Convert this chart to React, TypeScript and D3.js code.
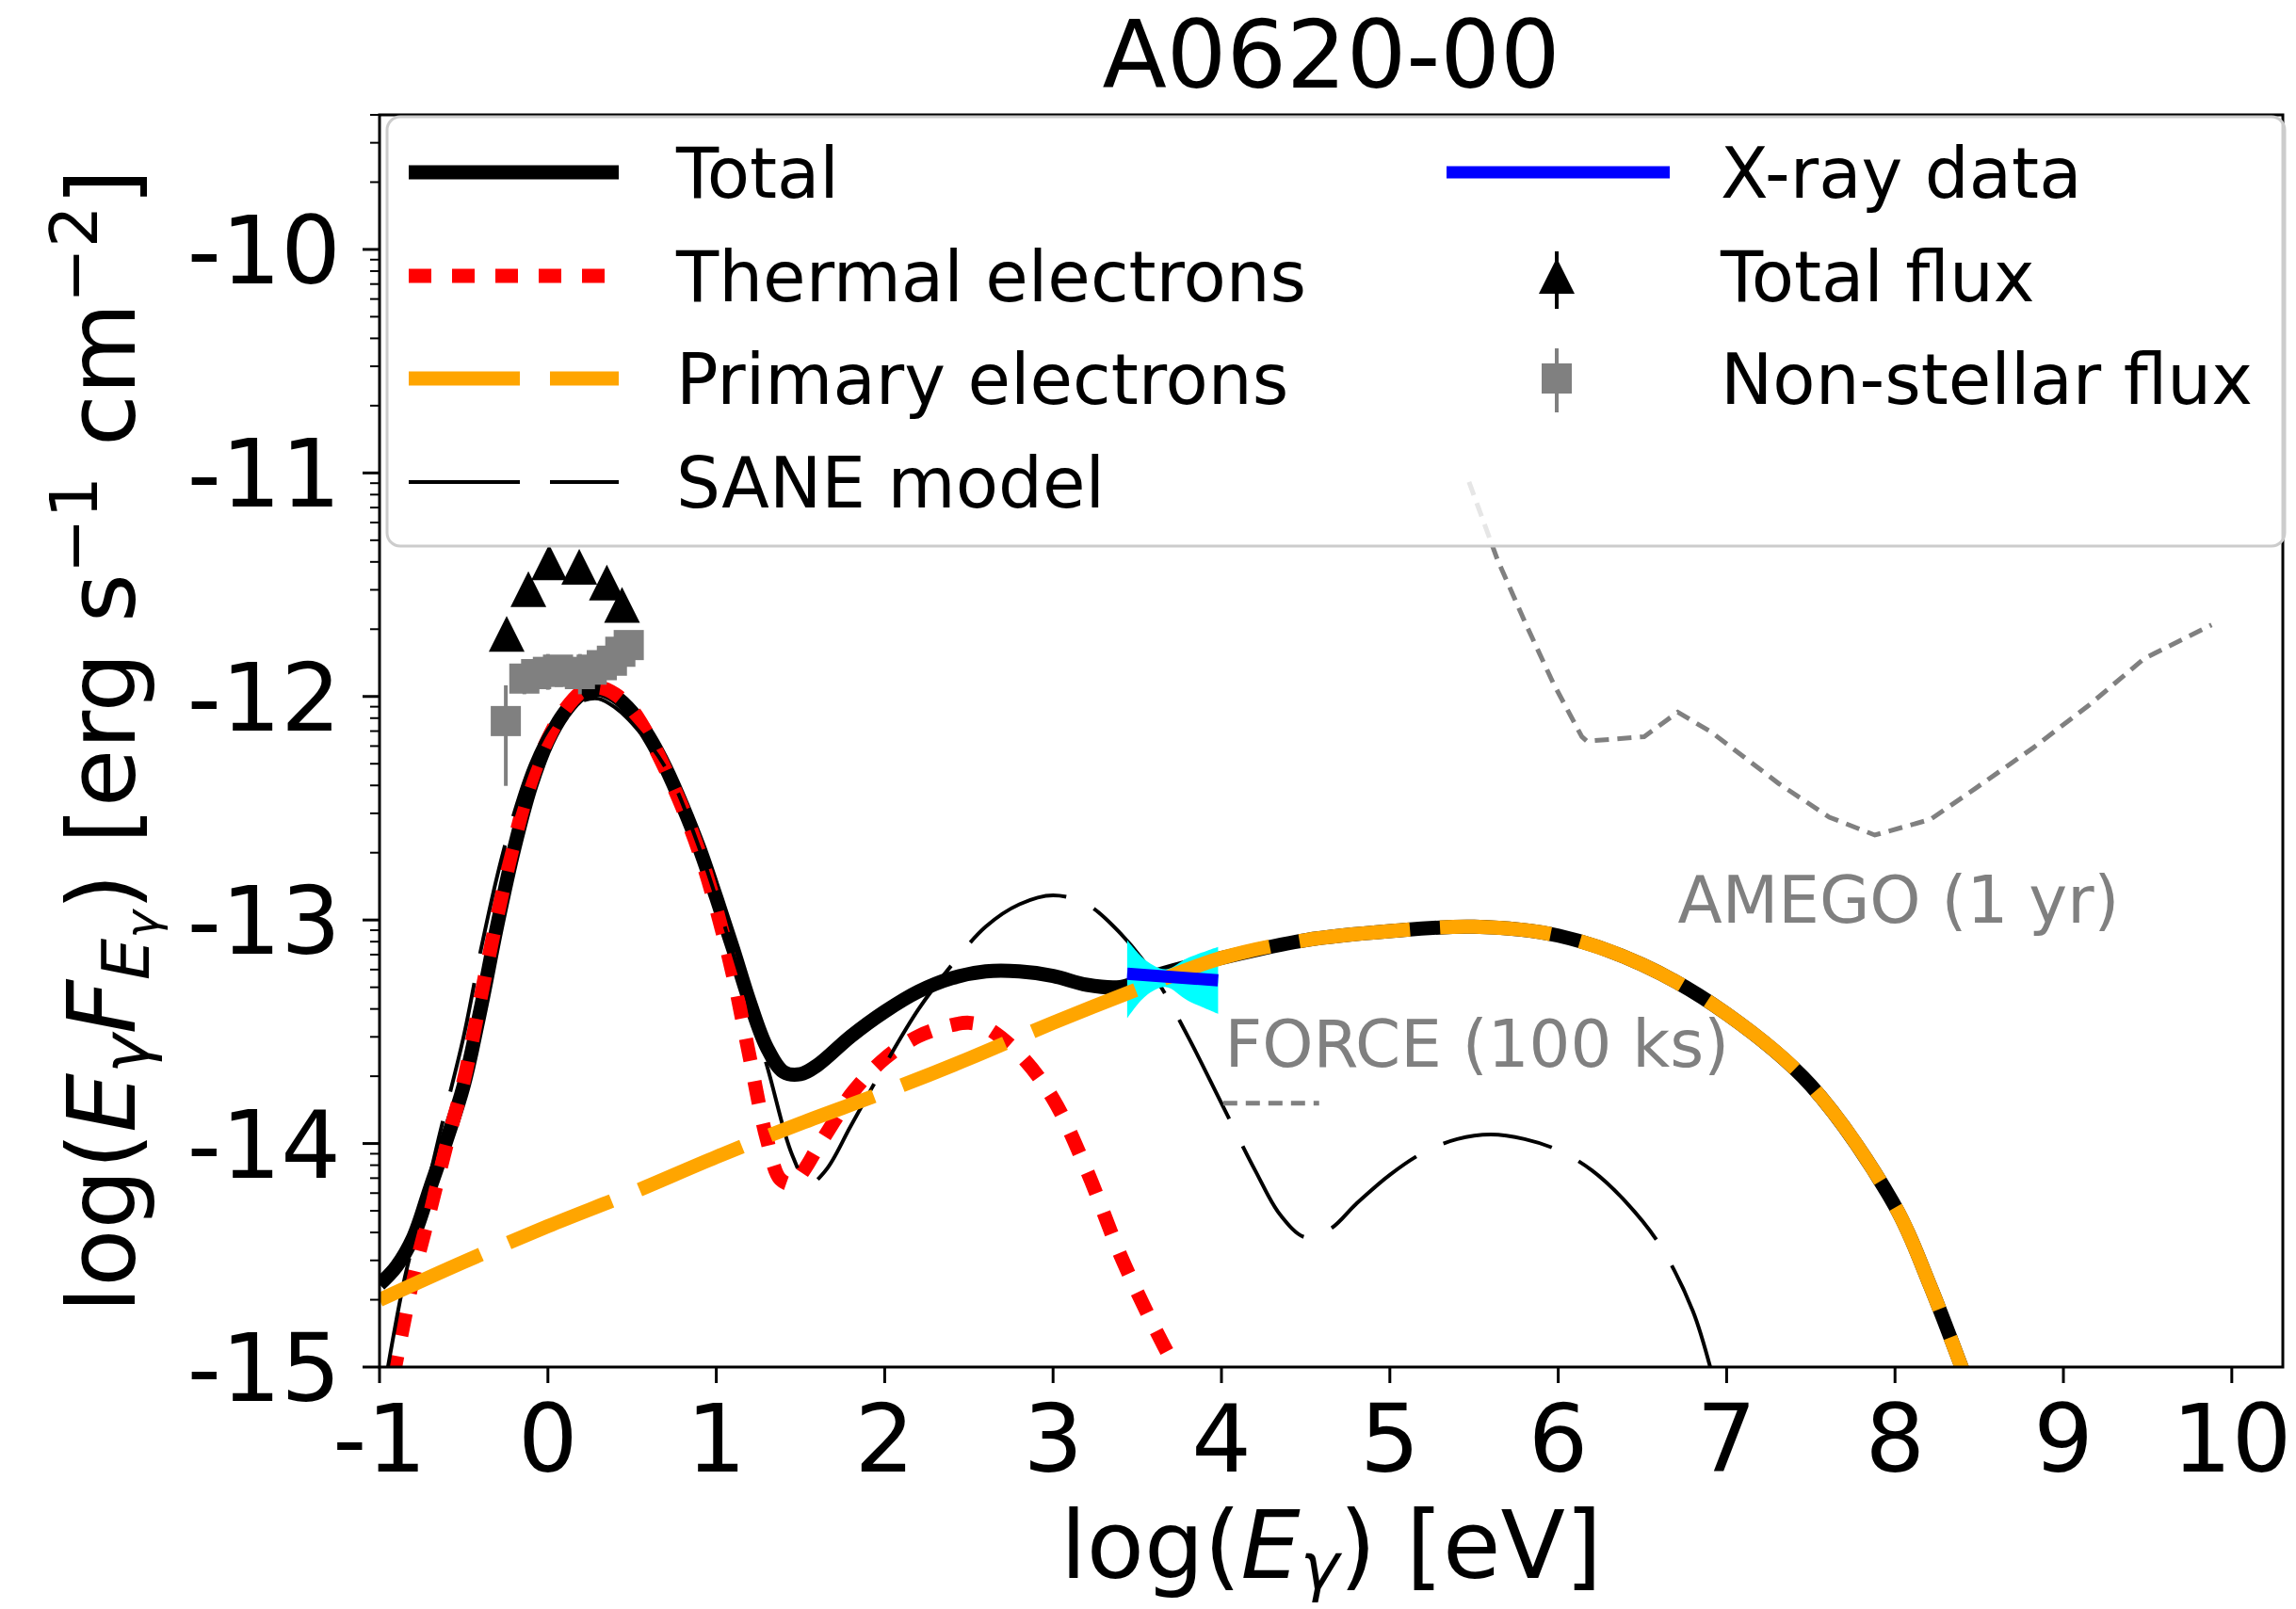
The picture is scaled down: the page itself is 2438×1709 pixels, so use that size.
import React from "react";
import * as d3 from "d3";

const W = 2438;
const H = 1709;
const PL = 403, PR = 2424, PT = 122, PB = 1452;

const xTicks = [-1, 0, 1, 2, 3, 4, 5, 6, 7, 8, 9, 10];
const yTicks = [-15, -14, -13, -12, -11, -10];

// Total model (black thick)
const totalX = [-1, -0.9, -0.8, -0.7, -0.6, -0.5, -0.4, -0.3, -0.2, -0.1, 0, 0.1, 0.2, 0.3, 0.4, 0.5, 0.6, 0.7, 0.8, 0.9, 1.0, 1.1, 1.2, 1.3, 1.4, 1.5, 1.6, 1.8, 2.0, 2.2, 2.4, 2.6, 2.8, 3.0, 3.2, 3.4, 3.6, 4.0, 4.5, 5.0, 5.5, 6.0, 6.5, 7.0, 7.5, 8.0, 8.2, 8.42];
const totalY = [-14.63, -14.55, -14.42, -14.2, -13.98, -13.74, -13.4, -13.02, -12.68, -12.4, -12.2, -12.07, -11.99, -11.97, -12.0, -12.07, -12.18, -12.32, -12.49, -12.68, -12.9, -13.13, -13.37, -13.57, -13.68, -13.69, -13.65, -13.52, -13.41, -13.32, -13.26, -13.23, -13.23, -13.25, -13.29, -13.3, -13.25, -13.17, -13.09, -13.05, -13.03, -13.07, -13.2, -13.42, -13.74, -14.28, -14.62, -15.05];

// Thermal electrons (red dotted)
const thermalX = [-0.92, -0.8, -0.7, -0.6, -0.5, -0.4, -0.3, -0.2, -0.1, 0, 0.1, 0.2, 0.3, 0.4, 0.5, 0.6, 0.7, 0.8, 0.9, 1.0, 1.1, 1.2, 1.3, 1.38, 1.45, 1.52, 1.6, 1.7, 1.8, 2.0, 2.2, 2.4, 2.5, 2.6, 2.8, 3.0, 3.2, 3.4, 3.6, 3.76];
const thermalY = [-15.05, -14.6, -14.3, -14.0, -13.72, -13.35, -12.98, -12.65, -12.38, -12.19, -12.06, -11.98, -11.96, -11.99, -12.06, -12.18, -12.33, -12.5, -12.7, -12.95, -13.25, -13.62, -13.98, -14.16, -14.18, -14.12, -14.02, -13.9, -13.78, -13.62, -13.52, -13.47, -13.46, -13.48, -13.6, -13.8, -14.12, -14.5, -14.82, -15.05];

// Primary electrons (orange dashed)
const primaryX = [-1, -0.5, 0, 0.5, 1, 1.5, 2, 2.5, 3, 3.5, 4, 4.5, 5, 5.5, 6, 6.5, 7, 7.5, 8, 8.2, 8.42];
const primaryY = [-14.7, -14.53, -14.37, -14.22, -14.06, -13.91, -13.77, -13.62, -13.46, -13.31, -13.17, -13.09, -13.05, -13.03, -13.07, -13.2, -13.42, -13.74, -14.28, -14.62, -15.05];

// SANE model (thin black long dash)
const saneX = [-0.95, -0.85, -0.75, -0.65, -0.5, -0.4, -0.3, -0.2, -0.1, 0, 0.1, 0.2, 0.3, 0.4, 0.5, 0.7, 0.9, 1.1, 1.3, 1.45, 1.55, 1.65, 1.8, 2.0, 2.2, 2.4, 2.6, 2.8, 3.0, 3.2, 3.4, 3.6, 3.8, 4.0, 4.2, 4.35, 4.5, 4.65, 4.8, 5.0, 5.2, 5.4, 5.6, 5.8, 6.0, 6.2, 6.4, 6.6, 6.8, 6.92];
const saneY = [-15.0, -14.6, -14.3, -13.98, -13.52, -13.14, -12.8, -12.52, -12.3, -12.15, -12.06, -12.02, -12.01, -12.05, -12.12, -12.32, -12.68, -13.15, -13.65, -14.05, -14.18, -14.12, -13.92, -13.65, -13.4, -13.2, -13.03, -12.93, -12.89, -12.93, -13.06, -13.25, -13.52, -13.82, -14.12, -14.32, -14.42, -14.38, -14.27, -14.14, -14.04, -13.98, -13.96, -13.98, -14.03, -14.12, -14.26, -14.45, -14.75, -15.05];

// AMEGO (1 yr) sensitivity
const amegoX = [5.47, 5.64, 5.81, 5.97, 6.14, 6.17, 6.51, 6.71, 6.91, 7.31, 7.61, 7.88, 8.21, 8.48, 8.82, 9.15, 9.48, 9.88];
const amegoY = [-11.04, -11.39, -11.68, -11.94, -12.18, -12.2, -12.18, -12.07, -12.16, -12.39, -12.54, -12.62, -12.55, -12.41, -12.23, -12.04, -11.83, -11.68];

// FORCE (100 ks) sensitivity
const forceX = [4.01, 4.58];
const forceY = [-13.82, -13.82];

// X-ray data (blue) and its butterfly (cyan)
const xrayX = [3.44, 3.98];
const xrayY = [-13.24, -13.27];
const bowX = [3.44, 3.55, 3.67, 3.8, 3.98];
const bowUpper = [-13.09, -13.18, -13.22, -13.17, -13.12];
const bowLower = [-13.44, -13.34, -13.3, -13.36, -13.42];

// Total flux (black triangles)
const totFluxX = [-0.245, -0.116, 0.007, 0.186, 0.35, 0.44];
const totFluxY = [-11.72, -11.52, -11.4, -11.42, -11.49, -11.59];

// Non-stellar flux (grey squares)
const nsX = [-0.25, -0.14, -0.07, 0.0, 0.06, 0.13, 0.19, 0.26, 0.32, 0.38, 0.43, 0.48];
const nsY = [-12.11, -11.92, -11.9, -11.89, -11.88, -11.89, -11.9, -11.88, -11.86, -11.84, -11.8, -11.77];
const nsErrLo = [0.29, 0.07, 0.06, 0.08, 0.06, 0.07, 0.09, 0.06, 0.06, 0.06, 0.07, 0.06];
const nsErrHi = [0.16, 0.07, 0.06, 0.08, 0.06, 0.07, 0.09, 0.06, 0.06, 0.06, 0.07, 0.06];

const FONT = "DejaVu Sans";

export default function App() {
  const x = d3.scaleLinear().domain([-1, 10.303]).range([PL, PR]);
  const y = d3.scaleLinear().domain([-15, -9.398]).range([PB, PT]);

  const smooth = (xs: number[], ys: number[]) =>
    d3.line<number>().x((_, i) => x(xs[i])).y((_, i) => y(ys[i])).curve(d3.curveCatmullRom.alpha(0.5))(xs) || "";
  const straight = (xs: number[], ys: number[]) =>
    d3.line<number>().x((_, i) => x(xs[i])).y((_, i) => y(ys[i]))(xs) || "";

  const bowPath =
    d3.area<number>().x((_, i) => x(bowX[i])).y0((_, i) => y(bowLower[i])).y1((_, i) => y(bowUpper[i])).curve(d3.curveCatmullRom)(bowX) || "";

  const minorTicks: number[] = [];
  for (let m = -16; m <= -10; m++) {
    for (let k = 2; k <= 9; k++) {
      const v = m + Math.log10(k);
      if (v > -15 && v < -9.39) minorTicks.push(v);
    }
  }

  const tri = (cx: number, cy: number, s: number) =>
    `M${cx},${cy - s / 2}L${cx - s / 2},${cy + s / 2}L${cx + s / 2},${cy + s / 2}Z`;

  const rows = [183, 293, 402, 512];

  return (
    <svg width={W} height={H} style={{ position: "absolute", left: 0, top: 0, display: "block" }} fontFamily={FONT}>
      <rect x={0} y={0} width={W} height={H} fill="white" />
      <defs>
        <clipPath id="plotclip">
          <rect x={PL} y={PT} width={PR - PL} height={PB - PT} />
        </clipPath>
      </defs>

      {/* title */}
      <text x={(PL + PR) / 2} y={93} fontSize={100} textAnchor="middle" fill="black">A0620-00</text>

      <g clipPath="url(#plotclip)">
        <path d={smooth(totalX, totalY)} fill="none" stroke="black" strokeWidth={15} />
        <path d={smooth(thermalX, thermalY)} fill="none" stroke="#ff0000" strokeWidth={15} strokeDasharray="24 22" />
        <path d={smooth(saneX, saneY)} fill="none" stroke="black" strokeWidth={4} strokeDasharray="118 32" />
        <path d={bowPath} fill="#00ffff" stroke="none" />
        <path d={smooth(primaryX, primaryY)} fill="none" stroke="#ffa500" strokeWidth={15} strokeDasharray="118 32" />
        <path d={straight(xrayX, xrayY)} fill="none" stroke="#0000ff" strokeWidth={13} />
        <path d={straight(amegoX, amegoY)} fill="none" stroke="#808080" strokeWidth={5} strokeDasharray="15 9" />
        <path d={straight(forceX, forceY)} fill="none" stroke="#808080" strokeWidth={5} strokeDasharray="15 9" />

        {nsX.map((v, i) => (
          <g key={"ns" + i}>
            <line x1={x(v)} x2={x(v)} y1={y(nsY[i] - nsErrLo[i])} y2={y(nsY[i] + nsErrHi[i])} stroke="#808080" strokeWidth={4} />
            <rect x={x(v) - 16} y={y(nsY[i]) - 16} width={32} height={32} fill="#808080" />
          </g>
        ))}
        {totFluxX.map((v, i) => (
          <path key={"tf" + i} d={tri(x(v), y(totFluxY[i]), 38)} fill="black" />
        ))}
      </g>

      <text x={x(4.02)} y={1133} fontSize={69} fill="#808080">FORCE (100 ks)</text>
      <text x={x(6.71)} y={980} fontSize={69} fill="#808080">AMEGO (1 yr)</text>

      {/* spines */}
      <rect x={PL} y={PT} width={PR - PL} height={PB - PT} fill="none" stroke="black" strokeWidth={3} />

      {/* x ticks */}
      {xTicks.map((t) => (
        <g key={"xt" + t}>
          <line x1={x(t)} x2={x(t)} y1={PB} y2={PB + 17} stroke="black" strokeWidth={3} />
          <text x={x(t)} y={1563} fontSize={100} textAnchor="middle">{String(t)}</text>
        </g>
      ))}
      {/* y ticks */}
      {yTicks.map((t) => (
        <g key={"yt" + t}>
          <line x1={PL - 18} x2={PL} y1={y(t)} y2={y(t)} stroke="black" strokeWidth={3} />
          <text x={362} y={y(t)} dy="0.36em" fontSize={100} textAnchor="end">{String(t)}</text>
        </g>
      ))}
      {minorTicks.map((t, i) => (
        <line key={"mt" + i} x1={PL - 10} x2={PL} y1={y(t)} y2={y(t)} stroke="black" strokeWidth={2} />
      ))}

      {/* axis labels */}
      <text x={(PL + PR) / 2} y={1676} fontSize={100} textAnchor="middle">
        log(<tspan fontStyle="italic">E</tspan><tspan fontSize={70} dy={12} fontStyle="italic">γ</tspan><tspan dy={-12}>) [eV]</tspan>
      </text>
      <text transform={`translate(143,${(PT + PB) / 2}) rotate(-90)`} fontSize={100} textAnchor="middle">
        log(<tspan fontStyle="italic">E</tspan><tspan fontSize={70} dy={15} fontStyle="italic">γ</tspan><tspan dy={-15} fontStyle="italic">F</tspan><tspan fontSize={70} dy={15} fontStyle="italic">E</tspan><tspan fontSize={50} dy={10} fontStyle="italic">γ</tspan><tspan dy={-25}>) [erg s</tspan><tspan fontSize={70} dy={-40}>−1</tspan><tspan dy={40}> cm</tspan><tspan fontSize={70} dy={-40}>−2</tspan><tspan dy={40}>]</tspan>
      </text>

      {/* legend */}
      <rect x={411} y={124} width={2015} height={456} rx={14} fill="white" fillOpacity={0.8} stroke="#cccccc" strokeWidth={3} />
      <line x1={434} x2={657} y1={rows[0]} y2={rows[0]} stroke="black" strokeWidth={15} />
      <line x1={434} x2={657} y1={rows[1]} y2={rows[1]} stroke="#ff0000" strokeWidth={15} strokeDasharray="24 22" />
      <line x1={434} x2={657} y1={rows[2]} y2={rows[2]} stroke="#ffa500" strokeWidth={15} strokeDasharray="118 32" />
      <line x1={434} x2={657} y1={rows[3]} y2={rows[3]} stroke="black" strokeWidth={4} strokeDasharray="118 32" />
      <text x={718} y={rows[0] + 27} fontSize={74}>Total</text>
      <text x={718} y={rows[1] + 27} fontSize={74}>Thermal electrons</text>
      <text x={718} y={rows[2] + 27} fontSize={74}>Primary electrons</text>
      <text x={718} y={rows[3] + 27} fontSize={74}>SANE model</text>

      <line x1={1536} x2={1773} y1={rows[0]} y2={rows[0]} stroke="#0000ff" strokeWidth={13} />
      <line x1={1653} x2={1653} y1={rows[1] - 26} y2={rows[1] + 35} stroke="black" strokeWidth={4} />
      <path d={tri(1653, rows[1], 38)} fill="black" />
      <line x1={1653} x2={1653} y1={rows[2] - 32} y2={rows[2] + 36} stroke="#808080" strokeWidth={4} />
      <rect x={1653 - 16} y={rows[2] - 16} width={32} height={32} fill="#808080" />
      <text x={1827} y={rows[0] + 27} fontSize={74}>X-ray data</text>
      <text x={1827} y={rows[1] + 27} fontSize={74}>Total flux</text>
      <text x={1827} y={rows[2] + 27} fontSize={74}>Non-stellar flux</text>
    </svg>
  );
}
